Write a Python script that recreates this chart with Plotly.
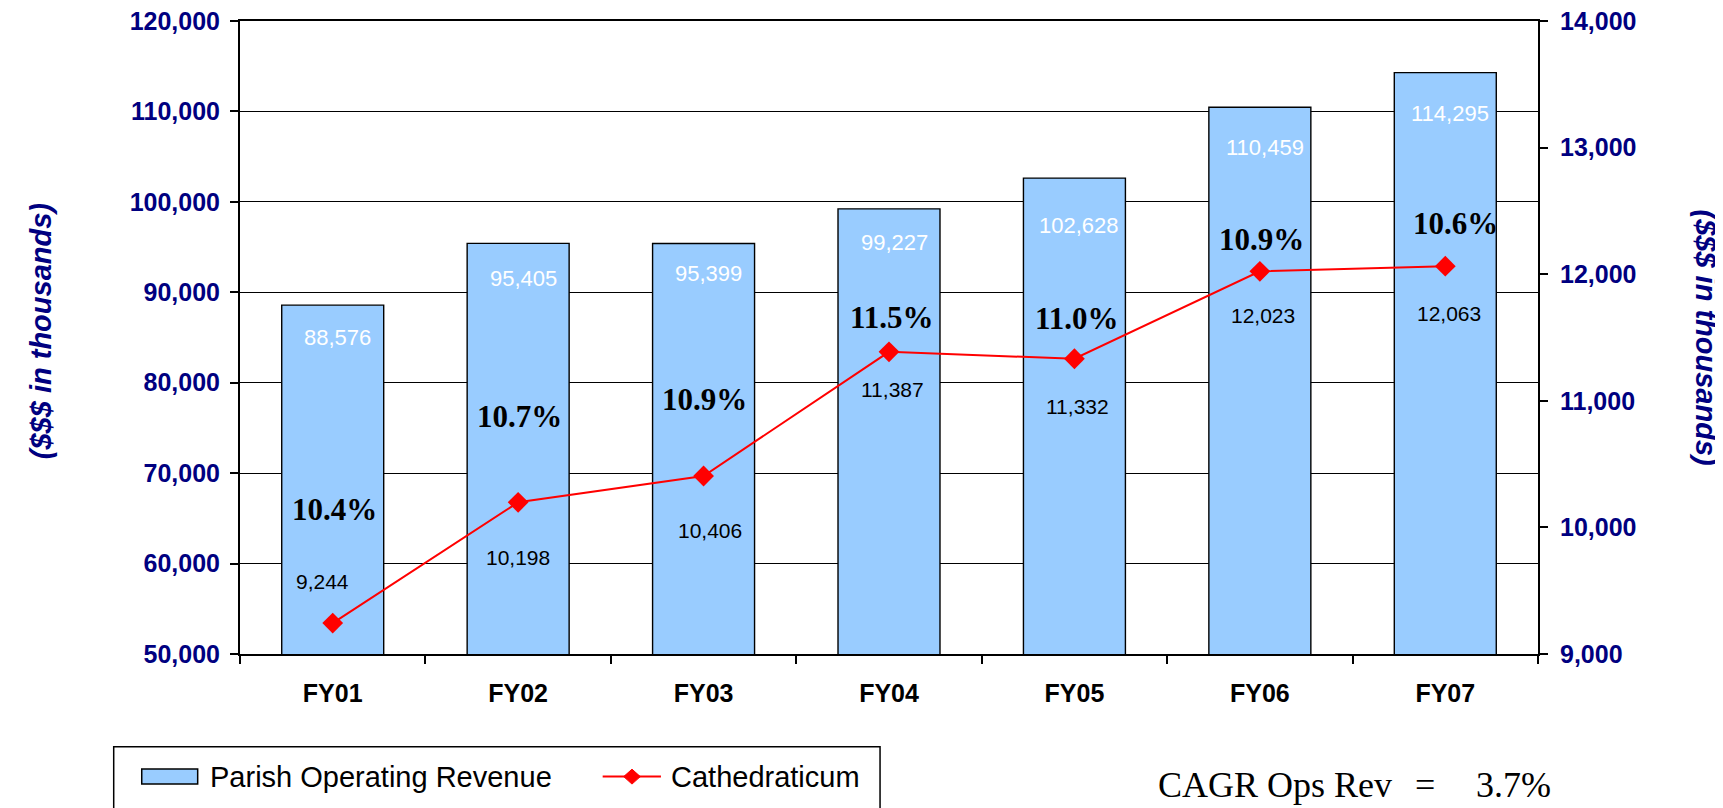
import plotly.graph_objects as go

# ---------------- data ----------------
categories = ["FY01", "FY02", "FY03", "FY04", "FY05", "FY06", "FY07"]
parish_revenue = [88576, 95405, 95399, 99227, 102628, 110459, 114295]
cathedraticum = [9244, 10198, 10406, 11387, 11332, 12023, 12063]
left_ticks = [50000, 60000, 70000, 80000, 90000, 100000, 110000, 120000]
right_ticks = [9000, 10000, 11000, 12000, 13000, 14000]

# ---------------- label placement (pixels) ----------------
REV_DY = [32, 35, 30, 34, 47, 40, 41]          # below bar top
PCT_DY = [114, 86, 77, 34, 40, 32, 43]         # above marker
PCT_DX = [2, 1, 1, 3, 3, 2, 10]
CATH_DY = [-42, 55, 54, 38, 48, 44, 47]        # below marker (negative = above)
CATH_DX = [-10, 0, 6, 3, 3, 3, 4]

NAVY = "#000080"
SANS = "Liberation Sans, Arial, sans-serif"
SERIF = "Liberation Serif, Times New Roman, serif"

fig = go.Figure()
fig.add_trace(go.Bar(
    x=categories, y=parish_revenue, name="Parish Operating Revenue",
    marker=dict(color="#99CCFF", line=dict(color="black", width=1.4)),
    yaxis="y", showlegend=False,
))
fig.add_trace(go.Scatter(
    x=categories, y=cathedraticum, name="Cathedraticum", mode="lines+markers",
    line=dict(color="#FF0000", width=2),
    marker=dict(symbol="diamond", size=16, color="#FF0000"),
    yaxis="y2", showlegend=False,
))

ann = []
for i, c in enumerate(categories):
    ann.append(dict(x=c, y=parish_revenue[i], xref="x", yref="y", text=f"{parish_revenue[i]:,}",
                    showarrow=False, yshift=-REV_DY[i], xshift=5, yanchor="middle",
                    font=dict(family=SANS, size=22, color="white")))
    pct = cathedraticum[i] / parish_revenue[i] * 100
    ann.append(dict(x=c, y=cathedraticum[i], xref="x", yref="y2", text=f"<b>{pct:.1f}%</b>",
                    showarrow=False, yshift=PCT_DY[i], xshift=PCT_DX[i], yanchor="middle",
                    font=dict(family=SERIF, size=31, color="black")))
    ann.append(dict(x=c, y=cathedraticum[i], xref="x", yref="y2", text=f"{cathedraticum[i]:,}",
                    showarrow=False, yshift=-CATH_DY[i], xshift=CATH_DX[i], yanchor="middle",
                    font=dict(family=SANS, size=21, color="black")))

# axis titles
ann.append(dict(x=-0.1533, y=0.51, xref="paper", yref="paper", text="<b><i>($$$ in thousands)</i></b>",
                textangle=-90, showarrow=False, xanchor="center", yanchor="middle",
                font=dict(family=SANS, size=29, color=NAVY)))
ann.append(dict(x=1.1302, y=0.5, xref="paper", yref="paper", text="<b><i>($$$ in thousands)</i></b>",
                textangle=90, showarrow=False, xanchor="center", yanchor="middle",
                font=dict(family=SANS, size=29, color=NAVY)))

# CAGR
cagr = (parish_revenue[-1] / parish_revenue[0]) ** (1 / len(parish_revenue)) - 1
ann.append(dict(x=0.7057, y=-0.207, xref="paper", yref="paper", text="CAGR Ops Rev",
                showarrow=False, xanchor="left", yanchor="middle",
                font=dict(family=SERIF, size=36, color="black")))
ann.append(dict(x=0.9130, y=-0.207, xref="paper", yref="paper", text="=",
                showarrow=False, xanchor="center", yanchor="middle",
                font=dict(family=SERIF, size=36, color="black")))
ann.append(dict(x=0.9815, y=-0.207, xref="paper", yref="paper", text=f"{cagr*100:.1f}%",
                showarrow=False, xanchor="center", yanchor="middle",
                font=dict(family=SERIF, size=36, color="black")))

# legend (drawn manually)
ann.append(dict(x=-0.0247, y=-0.1937, xref="paper", yref="paper", text="Parish Operating Revenue",
                showarrow=False, xanchor="left", yanchor="middle",
                font=dict(family=SANS, size=29, color="black")))
ann.append(dict(x=0.3305, y=-0.1937, xref="paper", yref="paper", text="Cathedraticum",
                showarrow=False, xanchor="left", yanchor="middle",
                font=dict(family=SANS, size=29, color="black")))

shapes = [
    dict(type="rect", xref="paper", yref="paper", x0=-0.0973, x1=0.4931, y0=-0.1464, y1=-0.26,
         line=dict(color="black", width=1.5), fillcolor="white", layer="above"),
    dict(type="rect", xref="paper", yref="paper", x0=-0.0757, x1=-0.0326, y0=-0.1816, y1=-0.2053,
         line=dict(color="black", width=1.5), fillcolor="#99CCFF", layer="above"),
    dict(type="line", xref="paper", yref="paper", x0=0.2794, x1=0.3243, y0=-0.1937, y1=-0.1937,
         line=dict(color="#FF0000", width=2), layer="above"),
    dict(type="path", xref="paper", yref="paper",
         path="M 0.3020,-0.1819 L 0.3084,-0.1937 L 0.3020,-0.2055 L 0.2956,-0.1937 Z",
         line=dict(color="#FF0000", width=1), fillcolor="#FF0000", layer="above"),
]

tick_font_y = dict(family=SANS, size=25, color=NAVY, weight="bold")

# page body has an 8px margin, so the figure is 8px smaller and margins shifted
fig.update_layout(
    width=1715, height=800,
    margin=dict(l=232, r=185, t=13, b=154, autoexpand=False),
    paper_bgcolor="white", plot_bgcolor="white",
    bargap=0.45,
    annotations=ann, shapes=shapes,
    xaxis=dict(type="category", categoryorder="array", categoryarray=categories,
               tickson="boundaries", ticks="outside", ticklen=8, tickwidth=1.5, tickcolor="black",
               showline=True, linecolor="black", linewidth=2, mirror=True, showgrid=False,
               tickfont=dict(family=SANS, size=25, color="black", weight="bold"), ticklabelstandoff=16),
    yaxis=dict(range=[50000, 120000], tickvals=left_ticks, tickformat=",",
               ticks="outside", ticklen=8, tickwidth=1.5, tickcolor="black",
               showline=True, linecolor="black", linewidth=2,
               showgrid=True, gridcolor="black", gridwidth=1, zeroline=False,
               tickfont=tick_font_y, ticklabelstandoff=5, ticklabeloverflow="allow"),
    yaxis2=dict(range=[9000, 14000], tickvals=right_ticks, tickformat=",", overlaying="y", side="right",
                ticks="outside", ticklen=8, tickwidth=1.5, tickcolor="black",
                showline=True, linecolor="black", linewidth=2, showgrid=False, zeroline=False,
                tickfont=tick_font_y, ticklabelstandoff=7, ticklabeloverflow="allow"),
    yaxis3=dict(range=[9000, 14000], tickvals=right_ticks, overlaying="y", side="right", anchor="x",
                ticks="inside", ticklen=8, tickwidth=1.5, tickcolor="black",
                showticklabels=False, showline=False, showgrid=False, zeroline=False),
    xaxis2=dict(range=[-0.5, 6.5], tickvals=[k - 0.5 for k in range(len(categories) + 1)],
                overlaying="x", side="bottom", anchor="y",
                ticks="inside", ticklen=8, tickwidth=1.5, tickcolor="black",
                showticklabels=False, showline=False, showgrid=False, zeroline=False),
)

fig.write_html("out.html")
